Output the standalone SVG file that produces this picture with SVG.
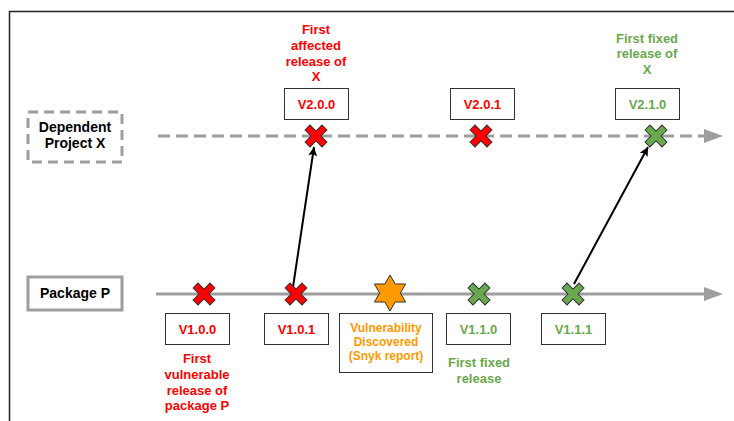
<svg xmlns="http://www.w3.org/2000/svg" width="734" height="421" viewBox="0 0 734 421">
<defs>
<style>
text{font-family:"Liberation Sans",Arial,sans-serif;font-weight:bold;text-anchor:middle}
.red{fill:#FF0000}.grn{fill:#6AA84F}.org{fill:#FF9900}.blk{fill:#000}
.vbox{fill:#fff;stroke:#333;stroke-width:1}
.v{font-size:13px}.lbl{font-size:13px}.big{font-size:14px}
.xr{fill:#FF0000;stroke:#333;stroke-width:1}
.xg{fill:#6AA84F;stroke:#333;stroke-width:1}
.gray{stroke:#9E9E9E;stroke-width:3;fill:none}
</style>
<path id="cross" d="M-3.5,-12H3.5V-3.5H12V3.5H3.5V12H-3.5V3.5H-12V-3.5H-3.5Z" transform="rotate(45)"/>
<marker id="ah" viewBox="0 0 10 10" refX="10" refY="5" markerWidth="11" markerHeight="9" markerUnits="userSpaceOnUse" orient="auto"><path d="M0,0L10,5L0,10L2,5Z" fill="#000"/></marker>
</defs>
<rect x="9.5" y="11.5" width="740" height="420" fill="#fff" stroke="#222" stroke-width="1.5"/>
<g id="timelines">
<line x1="158" y1="136" x2="705" y2="136" class="gray" stroke-dasharray="12 6"/>
<path d="M704,129L723,136L704,143Z" fill="#9E9E9E"/>
<line x1="156" y1="294" x2="706" y2="294" class="gray"/>
<path d="M704,287L723,294L704,301Z" fill="#9E9E9E"/>
</g>
<g id="connectors">
<line x1="293" y1="287" x2="314" y2="147" stroke="#000" stroke-width="2" marker-end="url(#ah)"/>
<line x1="574" y1="284" x2="648" y2="147" stroke="#000" stroke-width="2" marker-end="url(#ah)"/>
</g>
<g id="project-x">
<rect x="28" y="112" width="94" height="50" fill="#fff" stroke="#9E9E9E" stroke-width="3" stroke-dasharray="10 6"/>
<text class="big blk" x="75" y="132">Dependent</text>
<text class="big blk" x="75" y="148">Project X</text>
</g>
<g id="package-p">
<rect x="28" y="277" width="94" height="33" fill="#fff" stroke="#9E9E9E" stroke-width="3"/>
<text class="big blk" x="75" y="298">Package P</text>
</g>
<g id="v200">
<rect class="vbox" x="284.5" y="88.5" width="64" height="31"/>
<text class="v red" x="316.5" y="108.5">V2.0.0</text>
<use href="#cross" x="316" y="136" class="xr"/>
<text class="lbl red" x="316" y="34">First</text>
<text class="lbl red" x="316" y="50">affected</text>
<text class="lbl red" x="316" y="65.5">release of</text>
<text class="lbl red" x="316" y="81">X</text>
</g>
<g id="v201">
<rect class="vbox" x="450.5" y="88.5" width="64" height="31"/>
<text class="v red" x="482.5" y="108.5">V2.0.1</text>
<use href="#cross" x="481" y="136" class="xr"/>
</g>
<g id="v210">
<rect class="vbox" x="615.5" y="88.5" width="64" height="31"/>
<text class="v grn" x="647.5" y="108.5">V2.1.0</text>
<use href="#cross" x="656" y="136" class="xg"/>
<text class="lbl grn" x="647" y="42.5">First fixed</text>
<text class="lbl grn" x="647" y="58">release of</text>
<text class="lbl grn" x="647" y="73.5">X</text>
</g>
<g id="v100">
<use href="#cross" x="204" y="294" class="xr"/>
<rect class="vbox" x="165.5" y="313.5" width="64" height="31"/>
<text class="v red" x="197.5" y="333.5">V1.0.0</text>
<text class="lbl red" x="197" y="363">First</text>
<text class="lbl red" x="197" y="379">vulnerable</text>
<text class="lbl red" x="197" y="395">release of</text>
<text class="lbl red" x="197" y="410">package P</text>
</g>
<g id="v101">
<use href="#cross" x="296" y="294" class="xr"/>
<rect class="vbox" x="264.5" y="313.5" width="64" height="31"/>
<text class="v red" x="296.5" y="333.5">V1.0.1</text>
</g>
<g id="discovered">
<path d="M390,275L395.2,284L405.6,284L400.4,293L405.6,302L395.2,302L390,311L384.8,302L374.4,302L379.6,293L374.4,284L384.8,284Z" fill="#FF9900" stroke="#333" stroke-width="1"/>
<rect class="vbox" x="339.5" y="313.5" width="93" height="59"/>
<text class="org" font-size="12" x="386" y="332">Vulnerability</text>
<text class="org" font-size="12" x="386" y="346">Discovered</text>
<text class="org" font-size="12" x="386" y="360">(Snyk report)</text>
</g>
<g id="v110">
<use href="#cross" x="479" y="294" class="xg"/>
<rect class="vbox" x="446.5" y="313.5" width="64" height="31"/>
<text class="v grn" x="478.5" y="333.5">V1.1.0</text>
<text class="lbl grn" x="479" y="367">First fixed</text>
<text class="lbl grn" x="479" y="383">release</text>
</g>
<g id="v111">
<use href="#cross" x="573" y="294" class="xg"/>
<rect class="vbox" x="541.5" y="313.5" width="64" height="31"/>
<text class="v grn" x="573.5" y="333.5">V1.1.1</text>
</g>
</svg>
